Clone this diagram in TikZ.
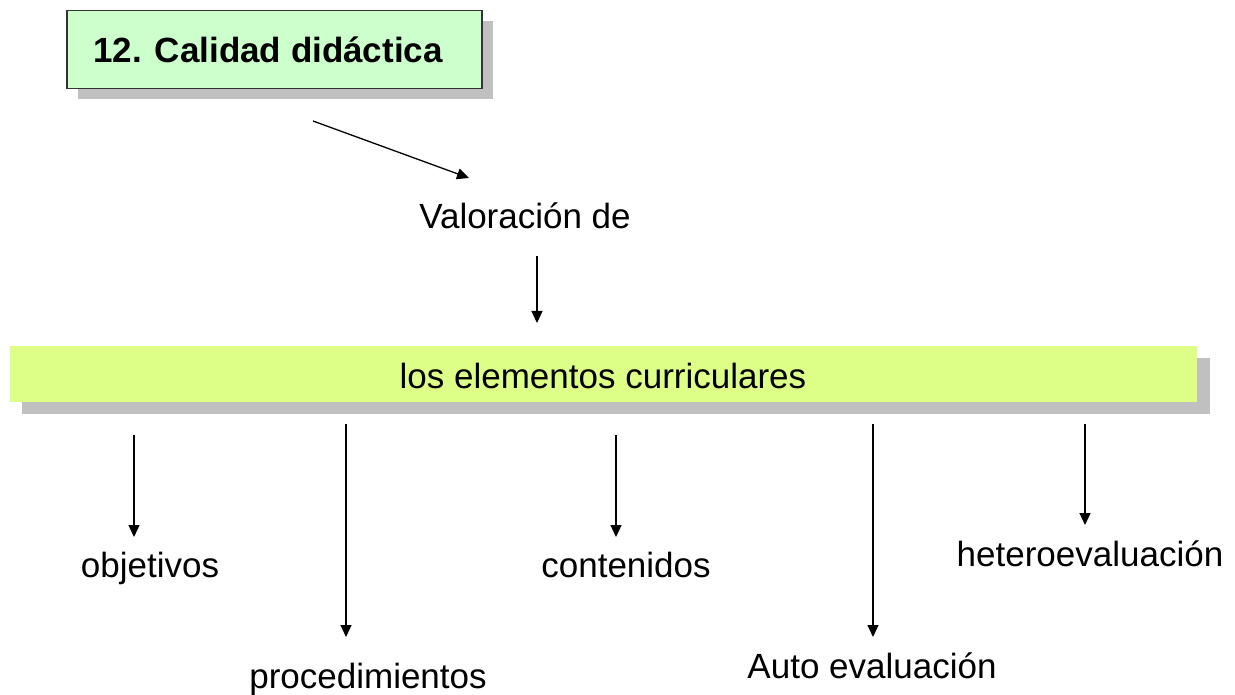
\documentclass[tikz,border=0pt]{standalone}
\usepackage{fontspec}
\setmainfont{Liberation Sans}
\usetikzlibrary{arrows.meta}
\definecolor{titlefill}{HTML}{CCFFCC}
\definecolor{barfill}{HTML}{DDFF88}
\definecolor{shadowgray}{HTML}{C0C0C0}
\definecolor{borderdark}{HTML}{333333}
\begin{document}
\begin{tikzpicture}[x=1pt,y=-1pt,
  lbl/.style={inner sep=0pt, anchor=base, font=\fontsize{35}{42}\selectfont},
  arr/.style={line width=1.3pt, -{Triangle[length=12pt,width=11pt]}}]
\useasboundingbox (0,0) rectangle (1235,695);
% title box with shadow
\fill[shadowgray] (78,21) rectangle (493,99);
\node[draw=borderdark, line width=1.5pt, fill=titlefill, minimum width=415pt, minimum height=78pt, inner sep=0pt, anchor=north west] (title) at (66,10) {};
\node[lbl, font=\fontsize{35}{42}\selectfont\bfseries] (titletxt) at (268,63) {12. Calidad didáctica};
% bar with shadow
\fill[shadowgray] (22,358) rectangle (1210,414);
\node[fill=barfill, minimum width=1187pt, minimum height=56pt, inner sep=0pt, anchor=north west] (bar) at (10,346) {};
\node[lbl] (bartxt) at (603,388) {los elementos curriculares};
% labels
\node[lbl] (val) at (525,229) {Valoración de};
\node[lbl] (obj) at (150,577) {objetivos};
\node[lbl] (proc) at (368,688) {procedimientos};
\node[lbl] (cont) at (626,577) {contenidos};
\node[lbl] (auto) at (872,678) {Auto evaluación};
\node[lbl] (het) at (1090,566) {heteroevaluación};
% connector ends
\coordinate (t1) at (313,121); \coordinate (t2) at (469,178);
\coordinate (v1) at (537,256); \coordinate (v2) at (537,323);
\coordinate (o1) at (134,435); \coordinate (o2) at (134,537);
\coordinate (p1) at (346,424); \coordinate (p2) at (346,637);
\coordinate (c1) at (616,435); \coordinate (c2) at (616,537);
\coordinate (a1) at (873,424); \coordinate (a2) at (873,637);
\coordinate (h1) at (1085,424); \coordinate (h2) at (1085,525);
\draw[arr] (t1) -- (t2);
\draw[arr] (v1) -- (v2);
\draw[arr] (o1) -- (o2);
\draw[arr] (p1) -- (p2);
\draw[arr] (c1) -- (c2);
\draw[arr] (a1) -- (a2);
\draw[arr] (h1) -- (h2);
\end{tikzpicture}
\end{document}
